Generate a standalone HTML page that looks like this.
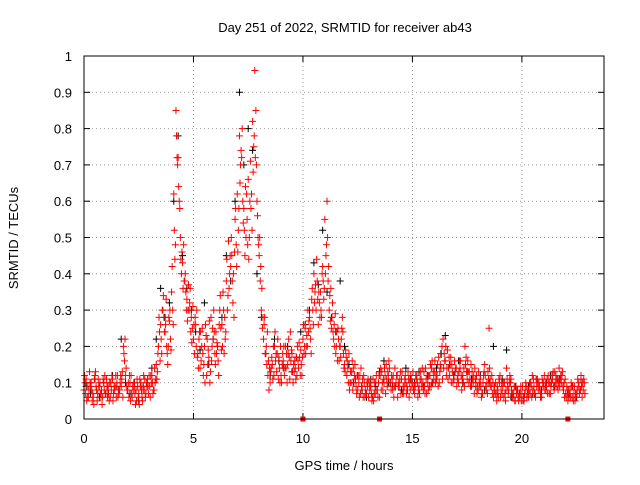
<!DOCTYPE html>
<html><head><meta charset="utf-8"><style>
body{margin:0;background:#fff}
svg text{font-family:"Liberation Sans",sans-serif;font-size:13px;fill:#000}
</style></head><body>
<svg id="chart" width="640" height="480" xmlns="http://www.w3.org/2000/svg">
<rect width="640" height="480" fill="#fff"/>
<text x="345" y="32" text-anchor="middle" font-size="14">Day 251 of 2022, SRMTID for receiver ab43</text>
<text x="344" y="470" text-anchor="middle">GPS time / hours</text>
<text transform="translate(18,238) rotate(-90)" text-anchor="middle">SRMTID / TECUs</text>
<g id="grid"></g><g id="ticks"></g><g id="marks"></g>
<rect x="84" y="56" width="520" height="363" fill="none" stroke="#000" stroke-width="1"/>
</svg>
<script>
const yTicks=[0,0.1,0.2,0.3,0.4,0.5,0.6,0.7,0.8,0.9,1];
const yTickLabels=["0","0.1","0.2","0.3","0.4","0.5","0.6","0.7","0.8","0.9","1"];
const xTicks=[0,5,10,15,20];
const red1=[.08,.11,.06,.09,.07,.12,.05,.09,.08,.10,
.07,.09,.06,.11,.08,.10,.07,.09,.20,.12,
.08,.10,.06,.09,.05,.07,.10,.08,.06,.11,
.09,.12,.08,.15,.20,.26,.30,.24,.18,.27,
.35,.62,.85,.72,.50,.43,.38,.33,.30,.28,
.22,.26,.18,.14,.25,.20,.12,.17,.28,.22,
.15,.20,.30,.26,.18,.38,.49,.42,.32,.55,
.62,.78,.72,.58,.50,.66,.71,.82,.96,.60,
.45,.30,.22,.18,.12,.10,.15,.20,.13,.17,
.12,.16,.20,.15,.11,.18,.13,.17,.14,.19,
.22,.25,.20,.28,.33,.40,.30,.26,.35,.42,
.55,.60,.30,.25,.22,.18,.25,.20,.28,.15,
.12,.18,.10,.14,.11,.08,.12,.09,.10,.07,
.06,.09,.11,.07,.08,.06,.13,.10,.15,.12,
.10,.08,.14,.12,.09,.11,.07,.10,.13,.08,
.10,.07,.12,.09,.11,.08,.14,.10,.12,.16,
.13,.11,.17,.14,.22,.16,.19,.12,.15,.11,
.14,.10,.16,.12,.20,.11,.13,.09,.12,.10,
.08,.11,.07,.15,.10,.25,.09,.06,.10,.08,
.12,.07,.10,.14,.08,.11,.06,.05,.08,.06,
.07,.05,.09,.06,.10,.08,.07,.11,.09,.06,
.10,.08,.12,.07,.11,.13,.09,.14,.10,.08,
.07,.05,.08,.06,.09,.07,.10,.12,.08];
const red2=[.10,.06,.13,.08,.04,.09,.11,.07,.06,.12,
.09,.05,.08,.07,.12,.06,.10,.13,.16,.09,
.06,.12,.08,.04,.09,.11,.06,.08,.10,.07,
.12,.07,.10,.13,.24,.18,.28,.33,.20,.22,
.30,.44,.72,.60,.40,.48,.35,.30,.36,.25,
.18,.30,.22,.16,.12,.26,.15,.10,.20,.24,
.18,.12,.25,.35,.22,.30,.40,.45,.28,.48,
.52,.70,.60,.45,.55,.50,.62,.75,.85,.50,
.38,.25,.28,.15,.08,.14,.20,.16,.22,.10,
.15,.12,.18,.22,.16,.10,.14,.20,.17,.12,
.18,.20,.24,.22,.30,.35,.38,.32,.28,.33,
.45,.38,.27,.32,.20,.24,.16,.22,.18,.19,
.14,.10,.16,.12,.07,.10,.14,.06,.08,.09,
.08,.05,.07,.12,.10,.14,.08,.12,.09,.14,
.12,.06,.10,.09,.13,.07,.11,.09,.06,.11,
.08,.12,.06,.11,.14,.09,.07,.12,.09,.13,
.10,.15,.13,.20,.18,.12,.14,.17,.10,.13,
.11,.16,.08,.14,.17,.13,.09,.11,.14,.07,
.10,.06,.12,.09,.13,.11,.07,.09,.05,.11,
.08,.10,.05,.09,.12,.06,.09,.07,.05,.09,
.05,.08,.07,.10,.06,.09,.11,.08,.06,.10,
.08,.11,.07,.10,.09,.12,.08,.11,.13,.06,
.09,.06,.10,.05,.07,.11,.08,.06,.10];
const red3=[.12,.05,.08,.10,.06,.13,.07,.10,.04,.08,
.11,.07,.10,.05,.09,.12,.08,.11,.18,.14,
.10,.05,.09,.07,.11,.04,.08,.12,.07,.09,
.06,.10,.14,.11,.28,.22,.34,.26,.15,.30,
.42,.52,.78,.64,.44,.36,.40,.27,.32,.21,
.26,.20,.14,.24,.18,.10,.22,.27,.16,.30,
.24,.16,.34,.20,.28,.44,.36,.50,.40,.58,
.46,.65,.80,.52,.62,.44,.58,.68,.72,.56,
.50,.36,.26,.20,.16,.13,.11,.24,.18,.14,
.10,.20,.14,.18,.24,.13,.16,.12,.21,.15,
.26,.18,.30,.25,.36,.32,.44,.35,.30,.38,
.40,.50,.34,.28,.26,.20,.22,.17,.24,.13,
.16,.08,.13,.10,.09,.12,.07,.11,.06,.10,
.10,.07,.05,.10,.06,.12,.10,.14,.11,.16,
.08,.12,.09,.06,.11,.13,.09,.07,.11,.12,
.13,.09,.10,.07,.09,.13,.11,.08,.15,.10,
.16,.12,.10,.18,.14,.20,.11,.15,.13,.16,
.09,.13,.12,.10,.15,.16,.11,.13,.07,.12,
.13,.09,.10,.12,.07,.14,.12,.08,.07,.06,
.06,.09,.07,.11,.10,.08,.07,.09,.06,.07,
.09,.07,.06,.08,.09,.11,.06,.10,.08,.11,
.12,.09,.10,.09,.13,.10,.11,.09,.12,.10,
.06,.08,.06,.09,.05,.08,.07,.09,.11];
const red4=[.07,.09,.10,.05,.11,.08,.09,.06,.11,.07,
.06,.10,.12,.09,.06,.08,.12,.06,.22,.08,
.12,.07,.10,.08,.06,.09,.05,.11,.09,.12,
.10,.08,.11,.18,.16,.30,.24,.20,.28,.19,
.26,.48,.70,.58,.46,.38,.30,.37,.24,.31,
.28,.17,.24,.20,.15,.23,.19,.13,.25,.18,
.21,.26,.19,.30,.24,.34,.45,.38,.46,.42,
.58,.74,.54,.64,.48,.60,.52,.78,.70,.48,
.42,.28,.18,.24,.14,.17,.12,.18,.11,.20,
.18,.14,.10,.17,.19,.15,.11,.16,.12,.17,
.20,.23,.27,.18,.26,.37,.33,.28,.40,.36,
.48,.42,.36,.24,.29,.16,.20,.25,.14,.17,
.10,.13,.08,.15,.12,.06,.09,.12,.07,.11,
.09,.06,.10,.08,.12,.08,.11,.07,.13,.10,
.11,.09,.12,.10,.07,.09,.12,.08,.10,.09,
.09,.11,.08,.13,.10,.07,.12,.09,.14,.11,
.12,.09,.15,.11,.16,.14,.17,.10,.12,.14,
.12,.14,.11,.09,.13,.10,.15,.10,.11,.09,
.09,.07,.13,.08,.11,.09,.10,.07,.09,.10,
.10,.06,.08,.07,.10,.07,.05,.08,.07,.05,
.06,.10,.08,.07,.12,.07,.09,.10,.07,.09,
.09,.07,.10,.12,.08,.11,.10,.12,.09,.11,
.08,.07,.09,.07,.06,.09,.08,.10,.07];
const black=[.09,.07,.11,.06,.10,.08,.12,.09,.22,.10,
.07,.10,.05,.09,.11,.14,.22,.36,.28,.32,
.60,.78,.45,.36,.30,.24,.19,.32,.15,.22,
.20,.28,.45,.38,.60,.90,.70,.80,.74,.40,
.28,.18,.12,.22,.16,.14,.20,.13,.17,.24,
.26,.30,.43,.37,.52,.35,.28,.24,.38,.20,
.15,.10,.12,.08,.06,.11,.09,.13,.16,.10,
.09,.12,.08,.14,.11,.10,.13,.09,.12,.10,
.14,.18,.23,.15,.12,.16,.10,.13,.11,.09,
.12,.08,.10,.20,.07,.11,.19,.06,.09,.07,
.06,.09,.07,.11,.08,.10,.12,.09,.11,.08,
.07,.09,.06,.11];
const zeroTimes=[10.0,13.5,22.1];
const X0=84,X1=604,Y0=419,Y1=56,XMAX=23.75;
const xs=t=>X0+t/XMAX*(X1-X0);
const ys=v=>Y0-v*(Y0-Y1);
const NS="http://www.w3.org/2000/svg";
function mk(tag,attrs,parent){const e=document.createElementNS(NS,tag);for(const k in attrs)e.setAttribute(k,attrs[k]);parent.appendChild(e);return e;}
const grid=document.getElementById('grid'),ticks=document.getElementById('ticks'),marks=document.getElementById('marks');
yTicks.forEach((v,i)=>{
  const y=ys(v);
  if(i>0&&i<yTicks.length-1){const g=mk('line',{x1:X0,x2:X1,y1:y,y2:y,stroke:'#999','stroke-dasharray':'1,3','stroke-width':1},grid);
  
  }
  mk('line',{x1:X0,x2:X0+6,y1:y,y2:y,stroke:'#000'},ticks);
  mk('line',{x1:X1,x2:X1-6,y1:y,y2:y,stroke:'#000'},ticks);
  const t=mk('text',{x:X0-12,y:y+5,'text-anchor':'end'},ticks);t.textContent=yTickLabels[i];
  
  
});
xTicks.forEach((v,i)=>{
  const x=xs(v);
  if(i>0){const g=mk('line',{x1:x,x2:x,y1:Y0,y2:Y1,stroke:'#999','stroke-dasharray':'1,3'},grid);
  
  }
  mk('line',{x1:x,x2:x,y1:Y0,y2:Y0-6,stroke:'#000'},ticks);
  mk('line',{x1:x,x2:x,y1:Y1,y2:Y1+6,stroke:'#000'},ticks);
  const t=mk('text',{x:x,y:Y0+24,'text-anchor':'middle'},ticks);t.textContent=String(v);
  
  
});
function plus(arr,start,step,color,name){
  let d='';
  arr.forEach((v,i)=>{const x=xs(start+i*step),y=ys(v);d+=`M${x-3.5},${y}h7M${x},${y-3.5}v7`;});
  const p=mk('path',{d:d,stroke:color,'stroke-width':1,fill:'none'},marks);
  
  
}
plus(black,0.1,0.2,'#000','series-black-points');
plus(red1,0,0.1,'#f00','series-red-points-a');
plus(red2,0.05,0.1,'#f00','series-red-points-b');
plus(red3,0.025,0.1,'#f00','series-red-points-c');
plus(red4,0.075,0.1,'#f00','series-red-points-d');
zeroTimes.forEach(t=>{const r=mk('rect',{x:xs(t)-2.5,y:Y0-2.5,width:5,height:5,fill:'#f00'},marks);

});
</script>
</body></html>
